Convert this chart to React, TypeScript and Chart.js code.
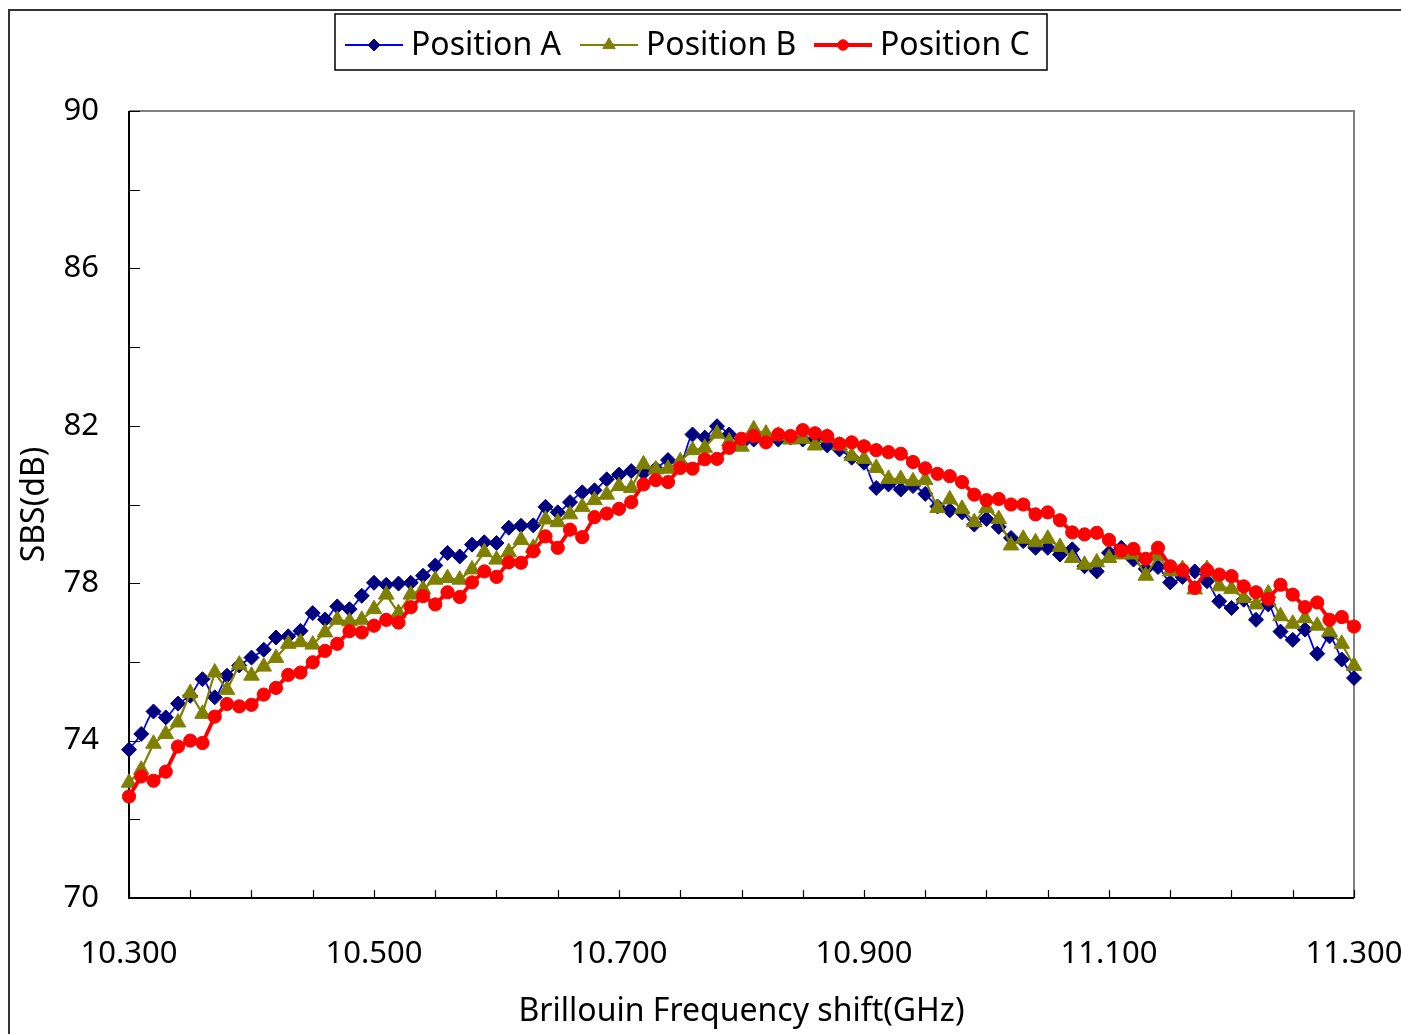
import React, { useEffect, useRef } from 'react';
import { Chart, registerables } from 'chart.js';
import { drawPoint } from 'chart.js/helpers';

Chart.register(...registerables);

const FREQ = [
  10.30, 10.31, 10.32, 10.33, 10.34, 10.35, 10.36, 10.37, 10.38, 10.39,
  10.40, 10.41, 10.42, 10.43, 10.44, 10.45, 10.46, 10.47, 10.48, 10.49,
  10.50, 10.51, 10.52, 10.53, 10.54, 10.55, 10.56, 10.57, 10.58, 10.59,
  10.60, 10.61, 10.62, 10.63, 10.64, 10.65, 10.66, 10.67, 10.68, 10.69,
  10.70, 10.71, 10.72, 10.73, 10.74, 10.75, 10.76, 10.77, 10.78, 10.79,
  10.80, 10.81, 10.82, 10.83, 10.84, 10.85, 10.86, 10.87, 10.88, 10.89,
  10.90, 10.91, 10.92, 10.93, 10.94, 10.95, 10.96, 10.97, 10.98, 10.99,
  11.00, 11.01, 11.02, 11.03, 11.04, 11.05, 11.06, 11.07, 11.08, 11.09,
  11.10, 11.11, 11.12, 11.13, 11.14, 11.15, 11.16, 11.17, 11.18, 11.19,
  11.20, 11.21, 11.22, 11.23, 11.24, 11.25, 11.26, 11.27, 11.28, 11.29,
  11.30,
];

const POS_A = [
  73.77, 74.17, 74.74, 74.59, 74.94, 75.14, 75.56, 75.10, 75.65, 75.91,
  76.11, 76.31, 76.62, 76.65, 76.79, 77.24, 77.08, 77.41, 77.34, 77.68,
  78.01, 77.96, 77.99, 78.01, 78.19, 78.45, 78.77, 78.68, 78.98, 79.04,
  79.02, 79.41, 79.46, 79.47, 79.94, 79.80, 80.06, 80.31, 80.36, 80.64,
  80.76, 80.85, 80.81, 80.91, 81.13, 81.04, 81.78, 81.70, 81.99, 81.78,
  81.55, 81.65, 81.70, 81.65, 81.70, 81.65, 81.65, 81.50, 81.40, 81.19,
  81.06, 80.42, 80.51, 80.38, 80.47, 80.27, 79.95, 79.85, 79.80, 79.49,
  79.63, 79.43, 79.15, 79.07, 78.90, 78.90, 78.73, 78.86, 78.43, 78.30,
  78.77, 78.90, 78.60, 78.36, 78.41, 78.02, 78.16, 78.30, 78.05, 77.54,
  77.37, 77.58, 77.07, 77.46, 76.77, 76.56, 76.82, 76.21, 76.65, 76.06,
  75.59,
];

const POS_B = [
  72.93, 73.26, 73.92, 74.17, 74.46, 75.21, 74.68, 75.73, 75.29, 75.93,
  75.65, 75.88, 76.10, 76.46, 76.50, 76.44, 76.75, 77.07, 77.03, 77.07,
  77.34, 77.71, 77.24, 77.71, 77.85, 78.09, 78.13, 78.09, 78.35, 78.79,
  78.60, 78.79, 79.10, 78.90, 79.62, 79.55, 79.75, 79.94, 80.11, 80.25,
  80.47, 80.42, 81.02, 80.89, 80.91, 81.10, 81.38, 81.44, 81.80, 81.60,
  81.47, 81.91, 81.80, 81.75, 81.65, 81.67, 81.50, 81.70, 81.50, 81.23,
  81.16, 80.93, 80.65, 80.65, 80.59, 80.62, 79.91, 80.13, 79.89, 79.55,
  79.91, 79.63, 78.96, 79.13, 79.04, 79.13, 78.92, 78.64, 78.47, 78.53,
  78.64, 78.73, 78.73, 78.19, 78.70, 78.30, 78.36, 77.84, 78.36, 77.92,
  77.85, 77.62, 77.46, 77.74, 77.16, 76.97, 77.11, 76.92, 76.77, 76.46,
  75.90,
];

const POS_C = [
  72.58, 73.09, 72.98, 73.21, 73.85, 74.00, 73.94, 74.61, 74.93, 74.87,
  74.91, 75.17, 75.34, 75.67, 75.73, 75.99, 76.28, 76.46, 76.78, 76.75,
  76.92, 77.07, 77.00, 77.39, 77.67, 77.46, 77.77, 77.65, 78.02, 78.30,
  78.16, 78.53, 78.52, 78.81, 79.19, 78.90, 79.36, 79.17, 79.68, 79.77,
  79.89, 80.06, 80.51, 80.62, 80.57, 80.93, 80.91, 81.15, 81.16, 81.44,
  81.67, 81.74, 81.58, 81.78, 81.74, 81.89, 81.81, 81.74, 81.54, 81.58,
  81.48, 81.38, 81.33, 81.29, 81.08, 80.92, 80.78, 80.72, 80.57, 80.25,
  80.11, 80.14, 80.00, 80.00, 79.75, 79.80, 79.60, 79.29, 79.24, 79.28,
  79.10, 78.83, 78.87, 78.62, 78.90, 78.43, 78.33, 77.88, 78.33, 78.22,
  78.18, 77.92, 77.77, 77.60, 77.96, 77.71, 77.39, 77.51, 77.07, 77.14,
  76.90,
];

const SERIES_NAMES = ['Position A', 'Position B', 'Position C'];
const X_TICKS = [10.3, 10.5, 10.7, 10.9, 11.1, 11.3];
const X_MINOR = [
  10.3, 10.35, 10.4, 10.45, 10.5, 10.55, 10.6, 10.65, 10.7, 10.75, 10.8,
  10.85, 10.9, 10.95, 11.0, 11.05, 11.1, 11.15, 11.2, 11.25, 11.3,
];
const Y_TICKS = [70, 74, 78, 82, 86, 90];
const Y_MINOR = [70, 72, 74, 76, 78, 80, 82, 84, 86, 88, 90];
const X_TITLE = 'Brillouin Frequency shift(GHz)';
const Y_TITLE = 'SBS(dB)';

const FONT = "'Noto Sans', 'Liberation Sans', Arial, sans-serif";

const STYLES = [
  { line: '#0000FF', marker: '#000080', width: 1.8, style: 'rectRot', radius: 7.5, tension: 0.3 },
  { line: '#808000', marker: '#808000', width: 2.2, style: 'triangle', radius: 9, tension: 0 },
  { line: '#FF0000', marker: '#FF0000', width: 3.8, style: 'circle', radius: 6.6, tension: 0 },
];

const framePlugin = {
  id: 'frame',
  beforeDatasetsDraw(chart: any) {
    const { ctx, chartArea, scales } = chart;
    const { left, right, top, bottom } = chartArea;
    const x = scales.x;
    const y = scales.y;
    ctx.save();
    ctx.lineWidth = 2;
    ctx.strokeStyle = '#808080';
    ctx.beginPath();
    ctx.moveTo(left, top);
    ctx.lineTo(right, top);
    ctx.lineTo(right, bottom);
    ctx.stroke();
    ctx.strokeStyle = '#000000';
    ctx.beginPath();
    ctx.moveTo(left, top);
    ctx.lineTo(left, bottom);
    ctx.lineTo(right, bottom);
    ctx.stroke();
    ctx.lineWidth = 1.2;
    ctx.beginPath();
    Y_MINOR.forEach((v) => {
      const py = Math.round(y.getPixelForValue(v)) + 0.5;
      ctx.moveTo(left, py);
      ctx.lineTo(left + 11, py);
    });
    X_MINOR.forEach((v) => {
      const px = Math.round(x.getPixelForValue(v)) + 0.5;
      ctx.moveTo(px, bottom);
      ctx.lineTo(px, bottom - 8);
    });
    ctx.stroke();
    ctx.restore();
  },
};

const LEGEND_BOX = { left: 335, top: 14, right: 1047, bottom: 70 };
const LEGEND_ITEM_X = [345, 580, 814];

const legendPlugin = {
  id: 'customLegend',
  afterDraw(chart: any) {
    const { ctx } = chart;
    ctx.save();
    ctx.lineWidth = 1.5;
    ctx.strokeStyle = '#000000';
    ctx.strokeRect(
      LEGEND_BOX.left,
      LEGEND_BOX.top,
      LEGEND_BOX.right - LEGEND_BOX.left,
      LEGEND_BOX.bottom - LEGEND_BOX.top
    );
    const cy = 45;
    SERIES_NAMES.forEach((name, i) => {
      const st = STYLES[i];
      const lx = LEGEND_ITEM_X[i];
      ctx.strokeStyle = st.line;
      ctx.lineWidth = st.width;
      ctx.beginPath();
      ctx.moveTo(lx, cy);
      ctx.lineTo(lx + 58, cy);
      ctx.stroke();
      ctx.fillStyle = st.marker;
      ctx.strokeStyle = st.marker;
      ctx.lineWidth = 1;
      drawPoint(ctx, { pointStyle: st.style as any, radius: st.radius * 0.8, rotation: 0, borderWidth: 1 }, lx + 29, cy);
      ctx.fillStyle = '#000000';
      ctx.font = `32px ${FONT}`;
      ctx.textBaseline = 'middle';
      ctx.textAlign = 'left';
      ctx.fillText(name, lx + 66, cy + 1);
    });
    ctx.restore();
  },
};

export default function App() {
  const ref = useRef<HTMLCanvasElement>(null);

  useEffect(() => {
    if (!ref.current) return;
    const datasets = [POS_A, POS_B, POS_C].map((vals, i) => ({
      label: SERIES_NAMES[i],
      data: vals.map((v, k) => ({ x: FREQ[k], y: v })),
      borderColor: STYLES[i].line,
      borderWidth: STYLES[i].width,
      backgroundColor: STYLES[i].marker,
      pointStyle: STYLES[i].style as any,
      pointRadius: STYLES[i].radius,
      pointBackgroundColor: STYLES[i].marker,
      pointBorderColor: STYLES[i].marker,
      pointBorderWidth: 1,
      tension: STYLES[i].tension,
      clip: false as any,
      order: 2 - i,
    }));
    const chart = new Chart(ref.current, {
      type: 'line',
      data: { datasets },
      options: {
        animation: false,
        responsive: false,
        devicePixelRatio: 1,
        layout: { padding: { left: 0, right: 47, top: 111, bottom: 0 } },
        plugins: { legend: { display: false }, tooltip: { enabled: false } },
        events: [],
        scales: {
          x: {
            type: 'linear',
            min: 10.3,
            max: 11.3,
            afterBuildTicks: (s: any) => {
              s.ticks = X_TICKS.map((v) => ({ value: v }));
            },
            afterFit: (s: any) => {
              s.height = 136;
              s.paddingLeft = 0;
              s.paddingRight = 0;
            },
            grid: { display: false, drawTicks: false },
            border: { display: false },
            ticks: {
              autoSkip: false,
              maxRotation: 0,
              padding: 38,
              color: '#000000',
              font: { family: FONT, size: 31 },
              callback: (v: any) => Number(v).toFixed(3),
            },
            title: {
              display: true,
              text: X_TITLE,
              color: '#000000',
              font: { family: FONT, size: 32 },
              padding: { top: 0, bottom: 3 },
            },
          },
          y: {
            type: 'linear',
            min: 70,
            max: 90,
            afterBuildTicks: (s: any) => {
              s.ticks = Y_TICKS.map((v) => ({ value: v }));
            },
            afterFit: (s: any) => {
              s.width = 129;
              s.paddingTop = 0;
              s.paddingBottom = 0;
            },
            grid: { display: false, drawTicks: false },
            border: { display: false },
            ticks: {
              padding: 30,
              color: '#000000',
              font: { family: FONT, size: 31 },
              callback: (v: any) => String(v),
            },
            title: {
              display: true,
              text: Y_TITLE,
              color: '#000000',
              font: { family: FONT, size: 32 },
              padding: { top: 16, bottom: 0 },
            },
          },
        },
      },
      plugins: [framePlugin, legendPlugin],
    });
    return () => chart.destroy();
  }, []);

  return (
    <div style={{ position: 'fixed', left: 0, top: 0, width: 1401, height: 1034, background: '#ffffff', overflow: 'hidden' }}>
      <div
        style={{
          position: 'absolute',
          left: 8,
          top: 9,
          width: 1420,
          height: 1060,
          borderLeft: '2px solid #333333',
          borderTop: '2px solid #333333',
        }}
      />
      <canvas ref={ref} width={1401} height={1034} style={{ position: 'absolute', left: 0, top: 0 }} />
    </div>
  );
}
